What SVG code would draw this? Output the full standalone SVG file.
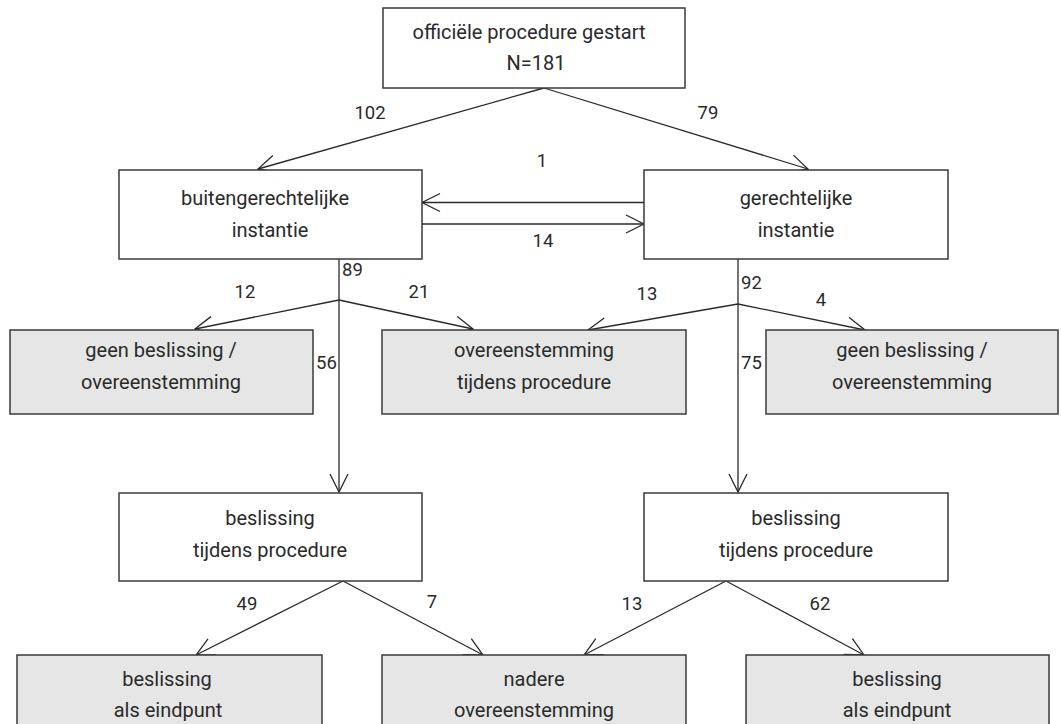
<svg xmlns="http://www.w3.org/2000/svg" width="1061" height="724" viewBox="0 0 1061 724">
<style>
.box{fill:#ffffff;stroke:#3a3a3a;stroke-width:1.5}
.gray{fill:#e6e6e6;stroke:#3a3a3a;stroke-width:1.5}
.t{font-family:Roboto,"Liberation Sans",sans-serif;font-size:20px;fill:#2a2a2a;text-anchor:middle}
.n{font-family:Roboto,"Liberation Sans",sans-serif;font-size:18.5px;fill:#2a2a2a;text-anchor:middle}
.nl{font-family:Roboto,"Liberation Sans",sans-serif;font-size:18.5px;fill:#2a2a2a;text-anchor:start}
.c{fill:none;stroke:#2a2a2a;stroke-width:1.3}
</style>
<defs>
<marker id="arr" markerUnits="userSpaceOnUse" markerWidth="22" markerHeight="22" viewBox="-20 -11 22 22" refX="0" refY="0" orient="auto">
<path d="M-18,-9 L0,0 L-18,9" fill="none" stroke="#2a2a2a" stroke-width="1.3"/>
</marker>
</defs>
<rect width="1061" height="724" fill="#ffffff"/>
<g id="connectors">
<line class="c" x1="544" y1="88" x2="258" y2="169" marker-end="url(#arr)"/>
<line class="c" x1="544" y1="88" x2="808" y2="169" marker-end="url(#arr)"/>
<line class="c" x1="644" y1="202.5" x2="422" y2="202.5" marker-end="url(#arr)"/>
<line class="c" x1="422" y1="224" x2="644" y2="224" marker-end="url(#arr)"/>
<line class="c" x1="339" y1="259" x2="339" y2="492" marker-end="url(#arr)"/>
<line class="c" x1="738" y1="259" x2="738" y2="492" marker-end="url(#arr)"/>
<line class="c" x1="339" y1="300" x2="195" y2="329" marker-end="url(#arr)"/>
<line class="c" x1="339" y1="300" x2="473" y2="329" marker-end="url(#arr)"/>
<line class="c" x1="738" y1="304" x2="588" y2="330" marker-end="url(#arr)"/>
<line class="c" x1="738" y1="304" x2="865" y2="330" marker-end="url(#arr)"/>
<line class="c" x1="343" y1="581" x2="196" y2="655" marker-end="url(#arr)"/>
<line class="c" x1="343" y1="581" x2="483" y2="655" marker-end="url(#arr)"/>
<line class="c" x1="726" y1="581" x2="584" y2="655" marker-end="url(#arr)"/>
<line class="c" x1="726" y1="581" x2="864" y2="655" marker-end="url(#arr)"/>
<text class="n" x="370" y="119">102</text>
<text class="n" x="708" y="119">79</text>
<text class="n" x="542" y="167">1</text>
<text class="n" x="543" y="247">14</text>
<text class="nl" x="342" y="276">89</text>
<text class="n" x="245" y="298">12</text>
<text class="n" x="419" y="298">21</text>
<text class="n" x="647" y="300">13</text>
<text class="nl" x="741" y="289">92</text>
<text class="n" x="821" y="306">4</text>
<text class="nl" x="316" y="369">56</text>
<text class="nl" x="741" y="369">75</text>
<text class="n" x="247" y="610">49</text>
<text class="n" x="432" y="608">7</text>
<text class="n" x="632" y="610">13</text>
<text class="n" x="820" y="610">62</text>
</g>
<g id="start">
<rect class="box" x="383" y="8" width="302" height="80"/>
<text class="t" x="529" y="39">officiële procedure gestart</text>
<text class="t" x="536" y="70">N=181</text>
</g>
<g id="buiten">
<rect class="box" x="119" y="170" width="303" height="89"/>
<text class="t" x="265" y="205">buitengerechtelijke</text>
<text class="t" x="270" y="237">instantie</text>
</g>
<g id="gerecht">
<rect class="box" x="644" y="170" width="304" height="89"/>
<text class="t" x="796" y="205">gerechtelijke</text>
<text class="t" x="796" y="237">instantie</text>
</g>
<g id="geen1">
<rect class="gray" x="10" y="330" width="303" height="84"/>
<text class="t" x="161" y="357">geen beslissing /</text>
<text class="t" x="161" y="389">overeenstemming</text>
</g>
<g id="overeen">
<rect class="gray" x="382" y="330" width="304" height="84"/>
<text class="t" x="534" y="357">overeenstemming</text>
<text class="t" x="534" y="389">tijdens procedure</text>
</g>
<g id="geen2">
<rect class="gray" x="766" y="330" width="292" height="84"/>
<text class="t" x="912" y="357">geen beslissing /</text>
<text class="t" x="912" y="389">overeenstemming</text>
</g>
<g id="besl1">
<rect class="box" x="119" y="493" width="303" height="88"/>
<text class="t" x="270" y="525">beslissing</text>
<text class="t" x="270" y="557">tijdens procedure</text>
</g>
<g id="besl2">
<rect class="box" x="644" y="493" width="304" height="88"/>
<text class="t" x="796" y="525">beslissing</text>
<text class="t" x="796" y="557">tijdens procedure</text>
</g>
<g id="eind1">
<rect class="gray" x="17" y="655" width="305" height="90"/>
<text class="t" x="167" y="686">beslissing</text>
<text class="t" x="168" y="717">als eindpunt</text>
</g>
<g id="nadere">
<rect class="gray" x="382" y="655" width="304" height="90"/>
<text class="t" x="534" y="686">nadere</text>
<text class="t" x="534" y="717">overeenstemming</text>
</g>
<g id="eind2">
<rect class="gray" x="746" y="655" width="303" height="90"/>
<text class="t" x="897" y="686">beslissing</text>
<text class="t" x="897" y="717">als eindpunt</text>
</g>
</svg>
